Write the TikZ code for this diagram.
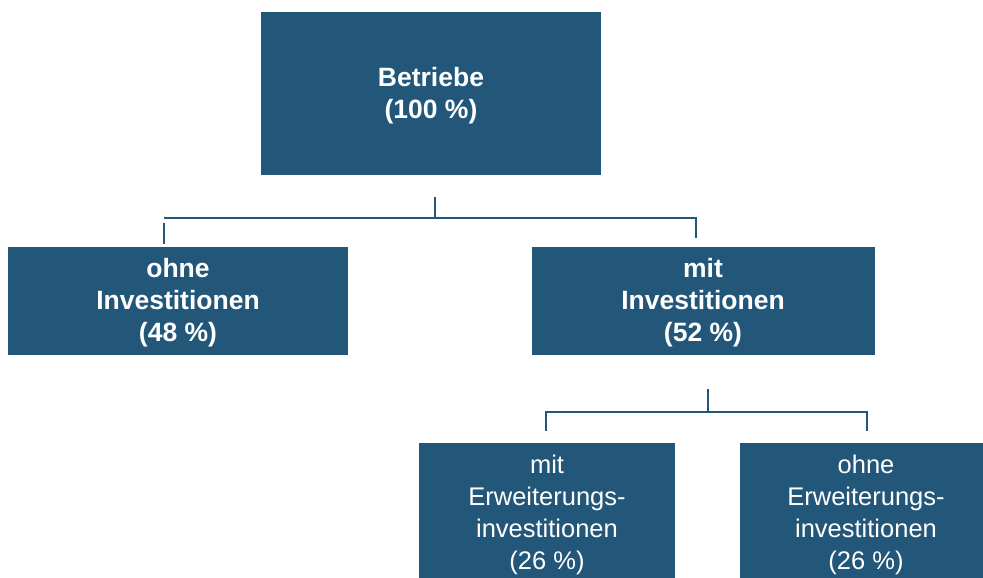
\documentclass[tikz,border=0pt]{standalone}
\usepackage{fontspec}
\setmainfont{Liberation Sans}
\definecolor{boxblue}{RGB}{35,87,121}
\begin{document}
\begin{tikzpicture}[x=1pt,y=-1pt,
  box/.style={fill=boxblue,draw=none,inner sep=0pt,outer sep=0pt},
  lbl/.style={text=white,align=center,font=\fontsize{25.5}{32}\selectfont},
  blbl/.style={text=white,align=center,font=\fontsize{26.5}{32}\selectfont\bfseries},
  conn/.style={draw=boxblue,line width=2pt}]
\useasboundingbox (0,0) rectangle (983,578);
\begin{scope}
\clip (0,0) rectangle (983,578);
% boxes
\path[box] (261,12) rectangle (601,175);
\path[box] (8,247) rectangle (348,355);
\path[box] (532,247) rectangle (875,355);
\path[box] (419,443) rectangle (675,590);
\path[box] (740,443) rectangle (990,590);
\end{scope}
% labels
\node[blbl] (top) at (431,96) {Betriebe\\(100 \%)};
\node[blbl] (ohne) at (178,303) {ohne\\Investitionen\\(48 \%)};
\node[blbl] (mit) at (703,303) {mit\\Investitionen\\(52 \%)};
\node[lbl] (mitE) at (547,515) {mit\\Erweiterungs-\\investitionen\\(26 \%)};
\node[lbl] (ohneE) at (866,515) {ohne\\Erweiterungs-\\investitionen\\(26 \%)};
% connector coordinates
\coordinate (s1a) at (435,197);
\coordinate (s1b) at (435,217.5);
\coordinate (h1l) at (164,217.5);
\coordinate (h1r) at (696,217.5);
\coordinate (d1la) at (164,223);
\coordinate (d1lb) at (164,244);
\coordinate (d1rb) at (696,238);
\coordinate (s2a) at (707.5,389);
\coordinate (s2b) at (707.5,411.5);
\coordinate (h2l) at (546,411.5);
\coordinate (h2r) at (867,411.5);
\coordinate (d2lb) at (546,431);
\coordinate (d2rb) at (867,431);
\draw[conn] (s1a) -- (s1b);
\draw[conn] (h1l) -- (h1r) -- (d1rb);
\draw[conn] (d1la) -- (d1lb);
\draw[conn] (s2a) -- (s2b);
\draw[conn] (d2lb) -- (h2l) -- (h2r) -- (d2rb);
\end{tikzpicture}
\end{document}
